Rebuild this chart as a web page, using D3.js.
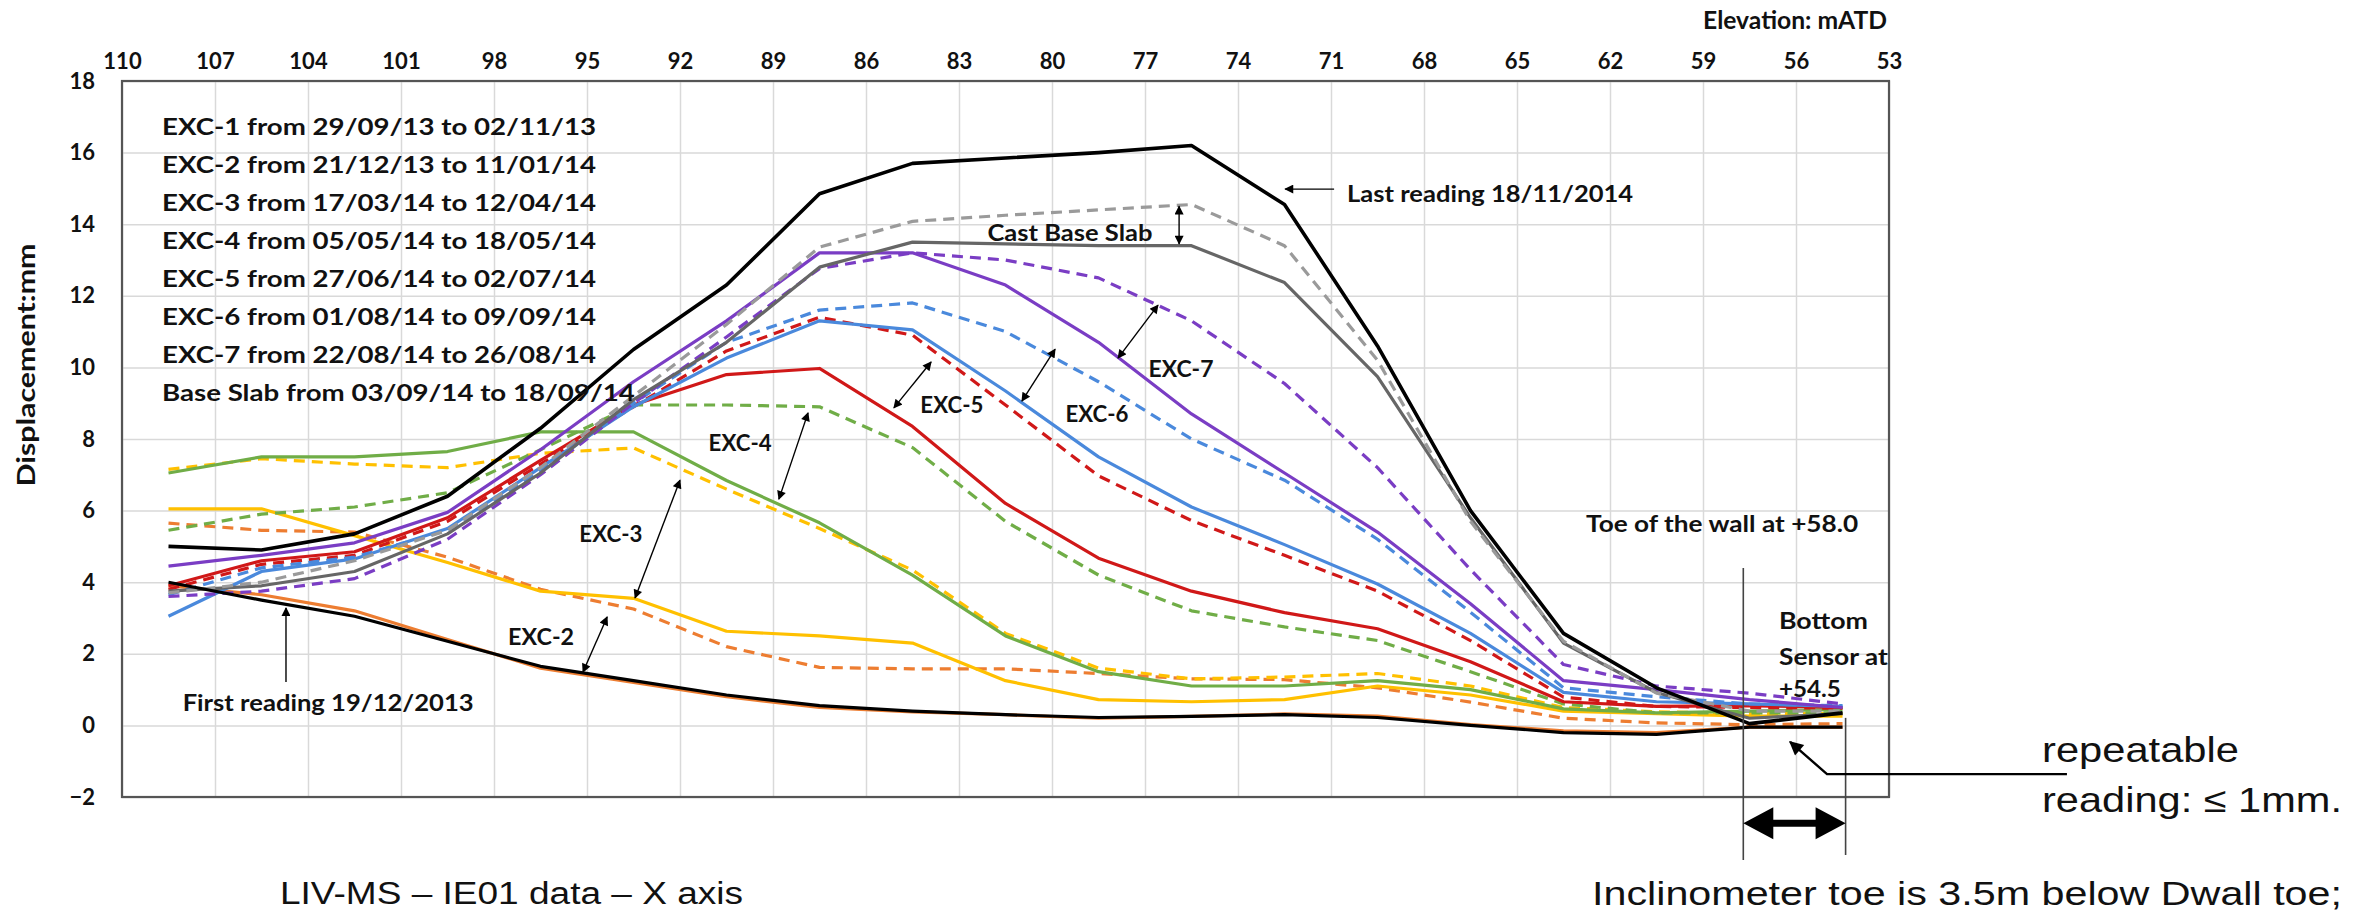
<!DOCTYPE html>
<html>
<head>
<meta charset="utf-8">
<title>IE01 displacement profile</title>
<script src="https://cdn.jsdelivr.net/npm/d3@7"></script>
<style>
  body { margin: 0; background: #fff; }
  svg text { font-family: Lato, "Open Sans", sans-serif; fill: #111; }
  .grid line { stroke: #d9d9d9; stroke-width: 1.5; }
  .axis text { font-size: 22px; font-weight: bold; }
  .note { font-size: 22px; font-weight: bold; }
  .plain { font-family: "Liberation Sans", Arial, sans-serif !important; }
</style>
</head>
<body>
<script>

// elevation of each inclinometer reading (mATD)
var elevations = [108.5, 105.5, 102.5, 99.5, 96.5, 93.5, 90.5, 87.5, 84.5, 81.5,
                  78.5, 75.5, 72.5, 69.5, 66.5, 63.5, 60.5, 57.5, 54.5];

// displacement readings (mm) at those elevations
var firstReading = [4.0, 3.5, 3.05, 2.35, 1.65, 1.25, 0.85, 0.55, 0.4, 0.3, 0.22, 0.25, 0.3, 0.22, 0.0, -0.2, -0.25, -0.05, -0.05];
var exc2Start = [3.9, 3.65, 3.2, 2.4, 1.6, 1.2, 0.8, 0.5, 0.38, 0.3, 0.2, 0.25, 0.32, 0.26, 0.02, -0.15, -0.2, -0.05, -0.05];
var exc2End   = [5.65, 5.45, 5.4, 4.7, 3.8, 3.25, 2.2, 1.62, 1.58, 1.58, 1.45, 1.3, 1.28, 1.05, 0.65, 0.2, 0.07, 0.02, 0.05];
var exc3Start = [6.05, 6.05, 5.3, 4.55, 3.75, 3.55, 2.63, 2.5, 2.3, 1.25, 0.72, 0.66, 0.72, 1.1, 0.85, 0.4, 0.33, 0.26, 0.26];
var exc3End   = [7.15, 7.45, 7.3, 7.2, 7.6, 7.75, 6.6, 5.5, 4.34, 2.57, 1.6, 1.3, 1.35, 1.45, 1.1, 0.5, 0.38, 0.33, 0.33];
var exc4Start = [7.05, 7.5, 7.5, 7.65, 8.2, 8.2, 6.84, 5.66, 4.2, 2.5, 1.5, 1.1, 1.1, 1.25, 1.0, 0.46, 0.35, 0.4, 0.45];
var exc4End   = [5.45, 5.9, 6.1, 6.5, 7.7, 8.95, 8.95, 8.9, 7.76, 5.7, 4.2, 3.2, 2.75, 2.37, 1.5, 0.6, 0.35, 0.35, 0.35];
var exc5Start = [3.9, 4.6, 4.85, 5.8, 7.4, 8.95, 9.8, 9.97, 8.35, 6.2, 4.67, 3.75, 3.15, 2.7, 1.78, 0.66, 0.53, 0.55, 0.5];
var exc5End   = [3.8, 4.5, 4.75, 5.7, 7.3, 8.9, 10.46, 11.4, 10.9, 8.95, 6.97, 5.72, 4.75, 3.75, 2.37, 0.79, 0.53, 0.5, 0.48];
var exc6Start = [3.05, 4.3, 4.65, 5.5, 7.2, 8.9, 10.26, 11.3, 11.05, 9.34, 7.5, 6.1, 5.05, 3.95, 2.57, 0.92, 0.66, 0.6, 0.53];
var exc6End   = [3.65, 4.4, 4.7, 5.45, 7.1, 9.0, 10.7, 11.6, 11.8, 11.0, 9.6, 8.0, 6.85, 5.2, 3.16, 1.05, 0.8, 0.6, 0.55];
var exc7Start = [4.45, 4.75, 5.1, 5.95, 7.7, 9.6, 11.3, 13.2, 13.2, 12.3, 10.7, 8.7, 7.05, 5.4, 3.4, 1.25, 1.0, 0.72, 0.5];
var exc7End   = [3.6, 3.75, 4.1, 5.2, 7.0, 9.0, 10.85, 12.76, 13.2, 13.0, 12.5, 11.3, 9.55, 7.2, 4.35, 1.7, 1.1, 0.9, 0.6];
var slabStart = [3.75, 3.9, 4.3, 5.35, 7.05, 9.1, 10.7, 12.8, 13.5, 13.45, 13.4, 13.4, 12.37, 9.74, 5.8, 2.3, 0.92, 0.2, 0.33];
var slabEnd   = [3.7, 4.0, 4.6, 5.45, 7.2, 9.2, 11.2, 13.36, 14.08, 14.25, 14.4, 14.55, 13.4, 10.2, 5.7, 2.35, 0.9, 0.4, 0.4];
var lastReading = [5.0, 4.9, 5.35, 6.4, 8.3, 10.5, 12.3, 14.85, 15.7, 15.85, 16.0, 16.2, 14.55, 10.6, 6.0, 2.57, 1.05, 0.05, 0.35];

// tick labels
var xTicks = [110, 107, 104, 101, 98, 95, 92, 89, 86, 83, 80, 77, 74, 71, 68, 65, 62, 59, 56, 53];
var yTicks = [-2, 0, 2, 4, 6, 8, 10, 12, 14, 16, 18];

var legendLines = [
  "EXC-1 from 29/09/13 to 02/11/13",
  "EXC-2 from 21/12/13 to 11/01/14",
  "EXC-3 from 17/03/14 to 12/04/14",
  "EXC-4 from 05/05/14 to 18/05/14",
  "EXC-5 from 27/06/14 to 02/07/14",
  "EXC-6 from 01/08/14 to 09/09/14",
  "EXC-7 from 22/08/14 to 26/08/14",
  "Base Slab from 03/09/14 to 18/09/14"
];

// series drawing order, colour and dash
var series = [
  {values: exc2Start, color: "#ED7D31", dash: false},
  {values: exc2End,   color: "#ED7D31", dash: true},
  {values: exc3Start, color: "#FFC000", dash: false},
  {values: exc3End,   color: "#FFC000", dash: true},
  {values: exc4Start, color: "#70AD47", dash: false},
  {values: exc4End,   color: "#70AD47", dash: true},
  {values: exc5Start, color: "#D01818", dash: false},
  {values: exc5End,   color: "#D01818", dash: true},
  {values: exc6Start, color: "#4A89DC", dash: false},
  {values: exc6End,   color: "#4A89DC", dash: true},
  {values: exc7Start, color: "#7A3DC4", dash: false},
  {values: exc7End,   color: "#7A3DC4", dash: true},
  {values: slabStart, color: "#666666", dash: false},
  {values: slabEnd,   color: "#9A9A9A", dash: true},
  {values: firstReading, color: "#000", dash: false},
  {values: lastReading,  color: "#000", dash: false}
];

var width = 2371, height = 913;
var margin = {top: 81, right: 482, bottom: 116, left: 122};
var pw = width - margin.left - margin.right,
    ph = height - margin.top - margin.bottom;

var x = d3.scaleLinear().domain([110, 53]).range([0, pw]);
var y = d3.scaleLinear().domain([-2, 18]).range([ph, 0]);

var svg = d3.select("body").append("svg")
    .attr("width", width)
    .attr("height", height);

var defs = svg.append("defs");
defs.append("marker")
    .attr("id", "head")
    .attr("viewBox", "0 0 10 10")
    .attr("refX", 9).attr("refY", 5)
    .attr("markerWidth", 11).attr("markerHeight", 9)
    .attr("markerUnits", "userSpaceOnUse")
    .attr("orient", "auto-start-reverse")
  .append("path").attr("d", "M0,0L10,5L0,10z").attr("fill", "#000");
defs.append("marker")
    .attr("id", "bighead")
    .attr("viewBox", "0 0 10 10")
    .attr("refX", 9).attr("refY", 5)
    .attr("markerWidth", 18).attr("markerHeight", 14)
    .attr("markerUnits", "userSpaceOnUse")
    .attr("orient", "auto-start-reverse")
  .append("path").attr("d", "M0,0L10,5L0,10z").attr("fill", "#000");

var g = svg.append("g")
    .attr("transform", "translate(" + margin.left + "," + margin.top + ")");

// gridlines
g.append("g").attr("class", "grid")
    .attr("transform", "translate(0," + ph + ")")
    .call(d3.axisBottom(x).tickValues(xTicks).tickSize(-ph).tickFormat(""))
    .call(function(s) { s.select(".domain").remove(); });
g.append("g").attr("class", "grid")
    .call(d3.axisLeft(y).tickValues(yTicks).tickSize(-pw).tickFormat(""))
    .call(function(s) { s.select(".domain").remove(); });

// axes labels (top and left)
g.append("g").attr("class", "axis")
    .call(d3.axisTop(x).tickValues(xTicks).tickSize(0).tickPadding(12))
    .call(function(s) { s.select(".domain").remove(); });
g.append("g").attr("class", "axis")
    .call(d3.axisLeft(y).tickValues(yTicks).tickSize(0).tickPadding(27))
    .call(function(s) { s.select(".domain").remove(); });
g.selectAll(".axis text").attr("fill", "#111").style("font-family", "Lato");

// plot border
g.append("rect")
    .attr("width", pw).attr("height", ph)
    .attr("fill", "none").attr("stroke", "#555").attr("stroke-width", 2.2);

// series lines
var line = d3.line()
    .x(function(d, i) { return x(elevations[i]); })
    .y(function(d) { return y(d); });

g.selectAll(".series")
    .data(series)
    .enter().append("path")
    .attr("class", "series")
    .attr("d", function(d) { return line(d.values); })
    .attr("fill", "none")
    .attr("stroke", function(d) { return d.color; })
    .attr("stroke-width", function(d) { return d.values === lastReading ? 3.6 : 3.2; })
    .attr("stroke-dasharray", function(d) { return d.dash ? "11,7" : null; })
    .attr("stroke-linejoin", "round");

// helper to stretch text to a measured width
function fit(sel, w) {
  sel.attr("textLength", w).attr("lengthAdjust", "spacingAndGlyphs");
}

// legend text block
var legend = g.append("g").attr("class", "note");
legend.selectAll("text")
    .data(legendLines)
    .enter().append("text")
    .attr("x", 40)
    .attr("y", function(d, i) { return 46 + i * 38; })
    .attr("dy", "0.35em")
    .style("font-size", "23px")
    .text(function(d) { return d; });
var k = 434 / legend.select("text").node().getComputedTextLength();
legend.selectAll("text").each(function() {
  d3.select(this).call(fit, this.getComputedTextLength() * k);
});

// labels placed in data coordinates
var labels = [
  {t: "Cast Base Slab", e: 79.42, v: 13.75, a: "middle", w: 165},
  {t: "EXC-7", e: 75.84, v: 9.96, a: "middle", w: 65},
  {t: "EXC-6", e: 78.55, v: 8.70, a: "middle", w: 63},
  {t: "EXC-5", e: 83.23, v: 8.95, a: "middle", w: 63},
  {t: "EXC-4", e: 90.06, v: 7.89, a: "middle", w: 63},
  {t: "EXC-3", e: 94.23, v: 5.35, a: "middle", w: 63},
  {t: "EXC-2", e: 96.48, v: 2.47, a: "middle", w: 66},
  {t: "First reading 19/12/2013", e: 103.35, v: 0.63, a: "middle", w: 291},
  {t: "Last reading 18/11/2014", e: 70.48, v: 14.84, a: "start", w: 286},
  {t: "Toe of the wall at +58.0", e: 62.77, v: 5.63, a: "start", w: 272},
  {t: "Bottom", e: 56.55, v: 2.92, a: "start", w: 89},
  {t: "Sensor at", e: 56.55, v: 1.91, a: "start", w: 109},
  {t: "+54.5", e: 56.55, v: 1.02, a: "start", w: 62}
];
g.selectAll(".lbl")
    .data(labels)
    .enter().append("text")
    .attr("class", "lbl note")
    .attr("x", function(d) { return x(d.e); })
    .attr("y", function(d) { return y(d.v); })
    .attr("dy", "0.35em")
    .attr("text-anchor", function(d) { return d.a; })
    .text(function(d) { return d.t; })
    .each(function(d) { d3.select(this).call(fit, d.w); });

// thin arrows between readings
var arrows = [
  {e1: 75.9, v1: 14.5, e2: 75.9, v2: 13.45, both: true},
  {e1: 77.87, v1: 10.26, e2: 76.58, v2: 11.74, both: true},
  {e1: 80.97, v1: 9.06, e2: 79.90, v2: 10.51, both: true},
  {e1: 85.1, v1: 8.87, e2: 83.9, v2: 10.15, both: true},
  {e1: 88.81, v1: 6.32, e2: 87.87, v2: 8.73, both: true},
  {e1: 93.45, v1: 3.56, e2: 92.0, v2: 6.85, both: true},
  {e1: 95.13, v1: 1.49, e2: 94.35, v2: 3.03, both: true},
  {e1: 104.71, v1: 1.21, e2: 104.71, v2: 3.28, both: false},
  {e1: 70.9, v1: 14.98, e2: 72.48, v2: 14.98, both: false}
];
g.selectAll(".arr")
    .data(arrows)
    .enter().append("line")
    .attr("class", "arr")
    .attr("x1", function(d) { return x(d.e1); })
    .attr("y1", function(d) { return y(d.v1); })
    .attr("x2", function(d) { return x(d.e2); })
    .attr("y2", function(d) { return y(d.v2); })
    .attr("stroke", "#000").attr("stroke-width", 1.4)
    .attr("marker-end", "url(#head)")
    .attr("marker-start", function(d) { return d.both ? "url(#head)" : null; });

// wall toe and bottom sensor markers
var toeElev = 57.7, sensorElev = 54.4;
g.append("line")
    .attr("x1", x(toeElev)).attr("x2", x(toeElev))
    .attr("y1", y(4.4)).attr("y2", y(-3.76))
    .attr("stroke", "#444").attr("stroke-width", 1.6);
g.append("line")
    .attr("x1", x(sensorElev)).attr("x2", x(sensorElev))
    .attr("y1", y(0.21)).attr("y2", y(-3.62))
    .attr("stroke", "#444").attr("stroke-width", 1.6);
g.append("line")
    .attr("x1", x(toeElev) + 14).attr("x2", x(sensorElev) - 14)
    .attr("y1", y(-2.73)).attr("y2", y(-2.73))
    .attr("stroke", "#000").attr("stroke-width", 7);
g.append("path")
    .attr("d", "M" + x(toeElev) + "," + y(-2.73) + "l30,-16v32z" +
               "M" + x(sensorElev) + "," + y(-2.73) + "l-30,-16v32z")
    .attr("fill", "#000");

// repeatable reading pointer
g.append("polyline")
    .attr("points", [[x(47.26), y(-1.36)], [x(55.0), y(-1.36)], [x(56.19), y(-0.46)]]
        .map(function(p) { return p.join(","); }).join(" "))
    .attr("fill", "none").attr("stroke", "#000").attr("stroke-width", 2.4)
    .attr("marker-end", "url(#bighead)");

// texts outside the plot
svg.append("text")
    .attr("x", 1703).attr("y", 21).attr("dy", "0.35em")
    .style("font-size", "24px").style("font-weight", "bold")
    .text("Elevation: mATD").call(fit, 184);
svg.append("text")
    .attr("transform", "translate(27,365) rotate(-90)")
    .attr("text-anchor", "middle").attr("dy", "0.35em")
    .style("font-size", "24px").style("font-weight", "bold")
    .text("Displacement:mm").call(fit, 243);
svg.append("text").attr("class", "plain")
    .attr("x", 2042).attr("y", 750).attr("dy", "0.35em")
    .style("font-size", "35px")
    .text("repeatable").call(fit, 197);
svg.append("text").attr("class", "plain")
    .attr("x", 2042).attr("y", 800).attr("dy", "0.35em")
    .style("font-size", "35px")
    .text("reading: \u2264 1mm.").call(fit, 300);
svg.append("text").attr("class", "plain")
    .attr("x", 1592).attr("y", 893).attr("dy", "0.35em")
    .style("font-size", "34px")
    .text("Inclinometer toe is 3.5m below Dwall toe;").call(fit, 750);
svg.append("text").attr("class", "plain")
    .attr("x", 280).attr("y", 893).attr("dy", "0.35em")
    .style("font-size", "31px")
    .text("LIV-MS \u2013 IE01 data \u2013 X axis").call(fit, 463);

</script>
</body>
</html>
